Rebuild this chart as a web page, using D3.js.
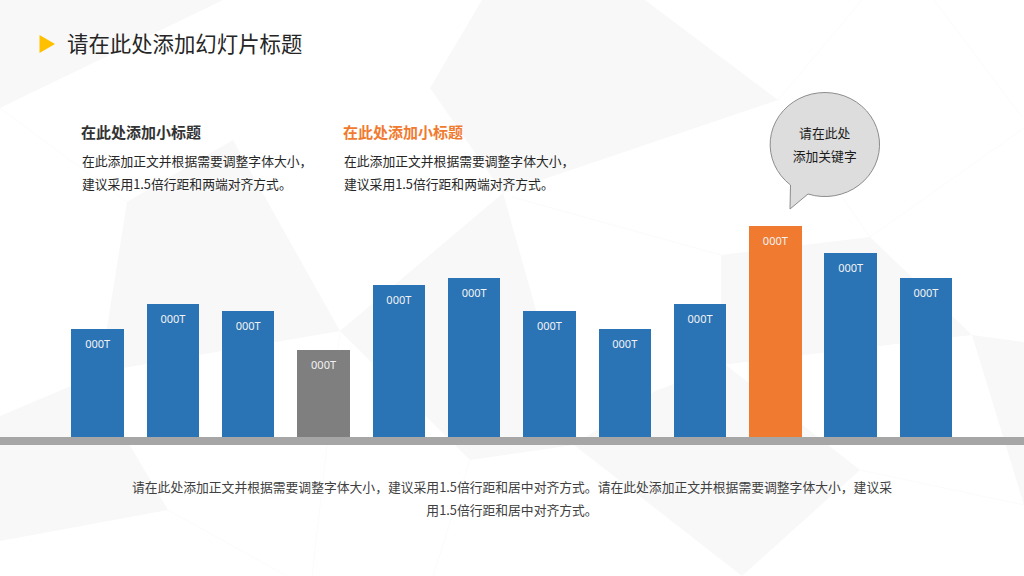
<!DOCTYPE html>
<html>
<head>
<meta charset="utf-8">
<script src="https://cdnjs.cloudflare.com/ajax/libs/d3/7.8.5/d3.min.js"></script>
<style>
html,body{margin:0;padding:0;background:#fff;overflow:hidden}
svg{display:block}
text{font-family:"Noto Sans CJK SC","Noto Sans",sans-serif}
</style>
</head>
<body>
<svg id="c" width="1024" height="576"></svg>
<script>
const categories = ["1","2","3","4","5","6","7","8","9","10","11","12"];
const barValues = [108,133,126,87,152,159,126,108,133,211,184,159];
const barLabels = ["000T","000T","000T","000T","000T","000T","000T","000T","000T","000T","000T","000T"];
const barKinds = ["b","b","b","g","b","b","b","b","b","o","b","b"];

const svg = d3.select("#c");
const W = 1024, H = 576;

// background decoration
const bgPolys = [
  [[0,0],[223,0],[0,108]],
  [[482,0],[645,0],[778,100],[503,193],[430,88]],
  [[127,202],[233,140],[340,331],[100,372]],
  [[503,193],[574,445],[470,460],[340,331]],
  [[0,416],[90,378],[168,510],[0,541]],
  [[574,445],[655,391],[726,365],[860,470],[742,576]],
  [[721,255],[870,237],[972,335],[721,365]],
  [[972,335],[1024,342],[1024,505]]
];
const bgLines = [
  [[0,108],[127,202]],[[512,197],[721,255]],[[870,237],[1024,128]],[[870,237],[842,197]],
  [[778,100],[862,0]],[[934,0],[1022,117]],[[168,510],[287,576]],[[340,331],[312,576]],
  [[860,470],[1024,505]],[[470,460],[433,576]]
];
svg.append("g").selectAll("polygon").data(bgPolys).join("polygon")
  .attr("points", d => d.join(" ")).attr("fill", "#f8f8f8");
svg.append("g").selectAll("path").data(bgLines).join("path")
  .attr("d", d3.line()).attr("fill","none").attr("stroke","#fbfbfb").attr("stroke-width",1);

// title
svg.append("path").attr("d", "M39.5,35L55,44L39.5,53Z").attr("fill", "#ffc000");
svg.append("text").attr("x",67).attr("y",44.4).attr("dy","0.36em").attr("font-size",21.4).attr("font-weight",400)
  .attr("fill","#262626").text("请在此处添加幻灯片标题");

// text blocks
const subs = [
  {x:81, c:"#333333"},
  {x:343, c:"#f07b30"}
];
subs.forEach(s => {
  svg.append("text").attr("x",s.x).attr("y",133).attr("dy","0.36em").attr("font-size",15).attr("font-weight",700)
    .attr("fill",s.c).text("在此处添加小标题");
  svg.append("text").attr("x",s.x+1).attr("y",161.8).attr("dy","0.36em").attr("font-size",12.8)
    .attr("fill","#262626").text("在此添加正文并根据需要调整字体大小，");
  svg.append("text").attr("x",s.x+1).attr("y",184.8).attr("dy","0.36em").attr("font-size",12.8)
    .attr("fill","#262626").text("建议采用1.5倍行距和两端对齐方式。");
});

// bars
const x = d3.scaleBand().domain(categories).range([71.4,952.2]).paddingInner(0.3028).paddingOuter(0);
const y = d3.scaleLinear().domain([0,211]).range([437,226]);
const colors = {b:"#2a73b5", g:"#7f7f7f", o:"#f07b30"};
const rows = categories.map((c,i)=>({c, v:barValues[i], l:barLabels[i], k:barKinds[i]}));

svg.append("rect").attr("x",0).attr("y",437).attr("width",W).attr("height",8).attr("fill","#a6a6a6");

svg.append("g").attr("shape-rendering","crispEdges").selectAll("rect").data(rows).join("rect")
  .attr("x", d=>x(d.c)).attr("width", x.bandwidth())
  .attr("y", d=>y(d.v)).attr("height", d=>y(0)-y(d.v))
  .attr("fill", d=>colors[d.k]);
svg.append("g").selectAll("text").data(rows).join("text")
  .attr("x", d=>x(d.c)+x.bandwidth()/2).attr("y", d=>y(d.v)+14.6)
  .attr("dy","0.36em").attr("text-anchor","middle")
  .attr("font-size",11).attr("fill","#f2f2f2")
  .style("font-family",'"Noto Sans",sans-serif').text(d=>d.l);

// callout
svg.append("path")
  .attr("d","M790.5,185 A54.7,52 0 1 1 808,194 L790,209 Z")
  .attr("fill","#dddddd").attr("stroke","#8c8c8c").attr("stroke-width",1);
[["请在此处",133],["添加关键字",156.8]].forEach(t=>{
  svg.append("text").attr("x",824.7).attr("y",t[1]).attr("dy","0.36em").attr("text-anchor","middle")
    .attr("font-size",12.8).attr("fill","#1a1a1a").text(t[0]);
});

// footer
[["请在此处添加正文并根据需要调整字体大小，建议采用1.5倍行距和居中对齐方式。请在此处添加正文并根据需要调整字体大小，建议采",487],
 ["用1.5倍行距和居中对齐方式。",510]].forEach(t=>{
  svg.append("text").attr("x",512).attr("y",t[1]).attr("dy","0.36em").attr("text-anchor","middle")
    .attr("font-size",12.8).attr("fill","#404040").text(t[0]);
});
</script>
</body>
</html>
